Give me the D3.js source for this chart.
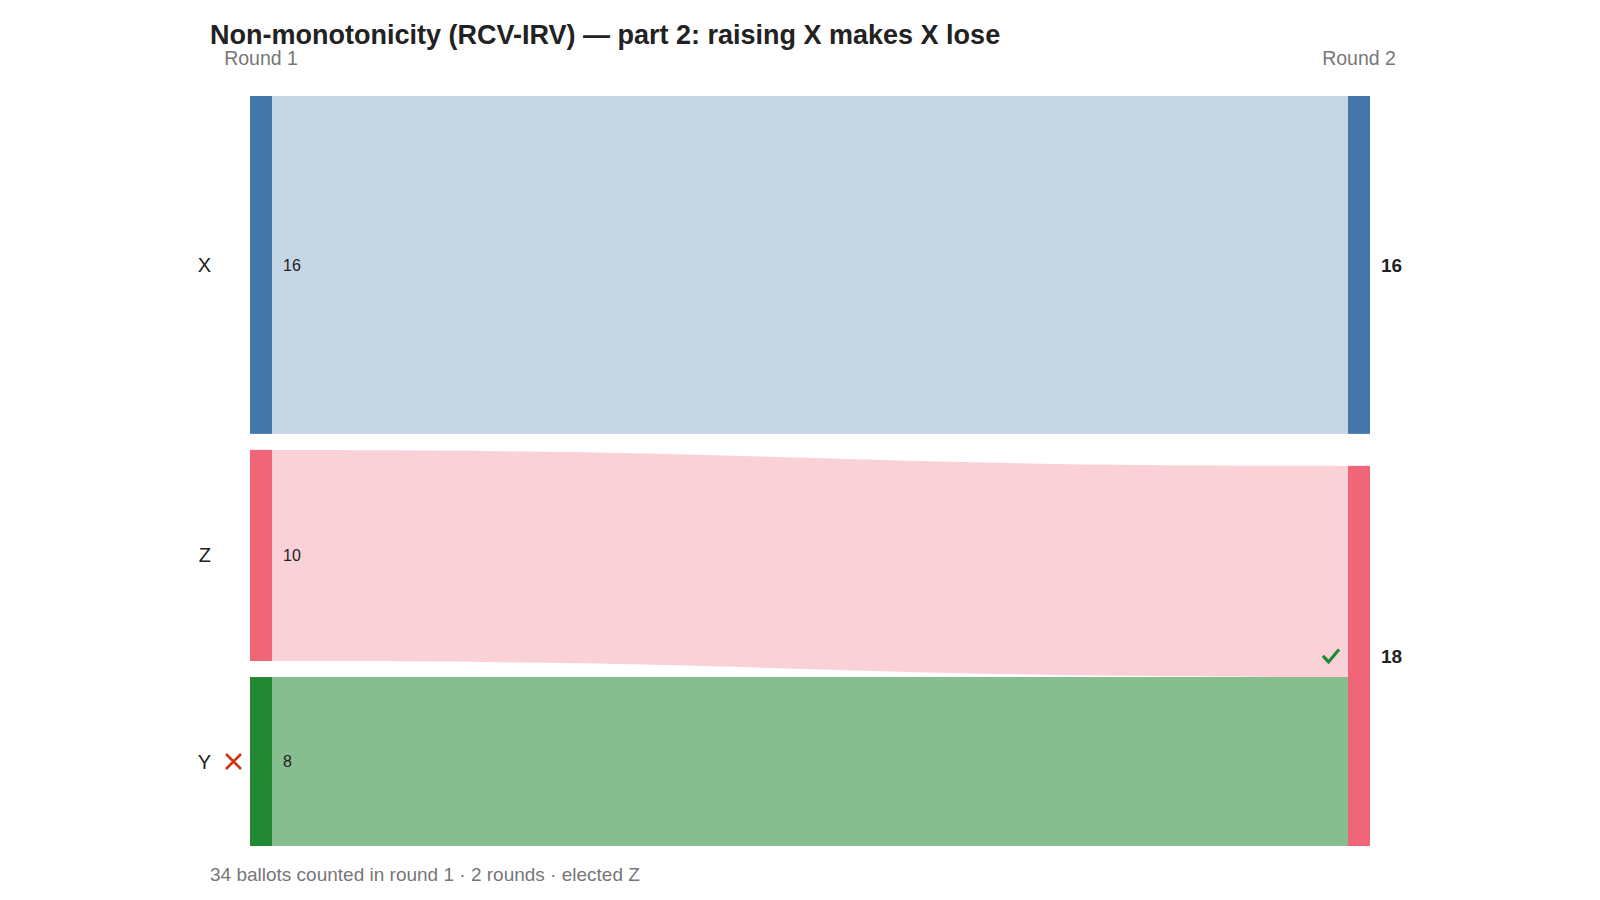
<!DOCTYPE html>
<html><head><meta charset="utf-8">
<script src="https://cdn.jsdelivr.net/npm/d3@7"></script>
<style>
html,body{margin:0;padding:0;background:#fff;}
svg{display:block;font-family:"Liberation Sans",Arial,Helvetica,sans-serif;}
</style></head>
<body>
<svg id="chart" width="1600" height="900"></svg>
<script>
// ---- data ----
const title = "Non-monotonicity (RCV-IRV) \u2014 part 2: raising X makes X lose";
const footer = "34 ballots counted in round 1 \u00b7 2 rounds \u00b7 elected Z";
const rounds = ["Round 1", "Round 2"];
const candidates = ["X", "Z", "Y"];
const round1Votes = [16, 10, 8];
const round2Candidates = ["X", "Z"];
const round2Votes = [16, 18];
const flowSource = ["X", "Z", "Y"];
const flowTarget = ["X", "Z", "Z"];
const flowValue = [16, 10, 8];
const eliminated = ["Y"];
const winner = "Z";
const palette = {X: "#4477aa", Z: "#ee6677", Y: "#228833"};

// ---- layout ----
const svg = d3.select("#chart");
const plotTop = 96, plotBottom = 846, nodeW = 22, pad = 16;
const x = d3.scalePoint().domain(rounds).range([250, 1348]);
const total = d3.sum(round1Votes);
const maxN = Math.max(candidates.length, round2Candidates.length);
const k = (plotBottom - plotTop - (maxN - 1) * pad) / total;
const h = d3.scaleLinear().domain([0, total]).range([0, total * k]);

function columnNodes(names, votes, round) {
  const sum = d3.sum(votes);
  const gap = names.length > 1 ? (plotBottom - plotTop - h(sum)) / (names.length - 1) : 0;
  let y = plotTop;
  return names.map((n, i) => {
    const node = {name: n, value: votes[i], round, x0: x(round), x1: x(round) + nodeW, y0: y, y1: y + h(votes[i])};
    y = node.y1 + gap;
    return node;
  });
}
const col1 = columnNodes(candidates, round1Votes, rounds[0]);
const col2 = columnNodes(round2Candidates, round2Votes, rounds[1]);
const find = (col, n) => col.find(d => d.name === n);

// links
col1.forEach(d => d.out = d.y0);
col2.forEach(d => d.inn = d.y0);
const links = flowValue.map((v, i) => {
  const s = find(col1, flowSource[i]), t = find(col2, flowTarget[i]);
  const l = {source: s, target: t, value: v,
    sy0: s.out, sy1: s.out + h(v), ty0: t.inn, ty1: t.inn + h(v)};
  s.out += h(v); t.inn += h(v);
  return l;
});

function ribbon(l) {
  const x0 = l.source.x1, x1 = l.target.x0, xm = (x0 + x1) / 2;
  const p = d3.path();
  p.moveTo(x0, l.sy0);
  p.bezierCurveTo(xm, l.sy0, xm, l.ty0, x1, l.ty0);
  p.lineTo(x1, l.ty1);
  p.bezierCurveTo(xm, l.ty1, xm, l.sy1, x0, l.sy1);
  p.closePath();
  return p.toString();
}

svg.append("g").selectAll("path").data(links).join("path")
  .attr("d", ribbon)
  .attr("fill", d => palette[d.source.name])
  .attr("fill-opacity", d => eliminated.includes(d.source.name) ? 0.55 : 0.3);

// nodes
svg.append("g").selectAll("rect").data(col1.concat(col2)).join("rect")
  .attr("x", d => d.x0).attr("y", d => d.y0)
  .attr("width", d => d.x1 - d.x0).attr("height", d => d.y1 - d.y0)
  .attr("fill", d => palette[d.name]);

// title
svg.append("text").attr("x", 210).attr("y", 44)
  .attr("font-size", 27).attr("font-weight", "bold").attr("fill", "#222")
  .text(title);

// round labels
svg.append("g").selectAll("text").data(rounds).join("text")
  .attr("x", d => x(d) + nodeW / 2).attr("y", 65)
  .attr("text-anchor", "middle").attr("font-size", 19.5).attr("fill", "#777")
  .text(d => d);

// candidate names
svg.append("g").selectAll("text").data(col1).join("text")
  .attr("x", 211).attr("y", d => (d.y0 + d.y1) / 2)
  .attr("dy", "0.35em").attr("text-anchor", "end")
  .attr("font-size", 20).attr("fill", "#222")
  .text(d => d.name);

// round 1 values
svg.append("g").selectAll("text").data(col1).join("text")
  .attr("x", d => d.x1 + 11).attr("y", d => (d.y0 + d.y1) / 2)
  .attr("dy", "0.35em").attr("font-size", 16).attr("fill", "#222")
  .text(d => d.value);

// round 2 values
svg.append("g").selectAll("text").data(col2).join("text")
  .attr("x", d => d.x1 + 11).attr("y", d => (d.y0 + d.y1) / 2)
  .attr("dy", "0.35em").attr("font-size", 19).attr("font-weight", "bold").attr("fill", "#222")
  .text(d => d.value);

// eliminated cross
col1.filter(d => eliminated.includes(d.name)).forEach(d => {
  const cx = 233.5, cy = (d.y0 + d.y1) / 2, r = 7.5;
  svg.append("path")
    .attr("d", `M${cx - r},${cy - r}L${cx + r},${cy + r}M${cx + r},${cy - r}L${cx - r},${cy + r}`)
    .attr("stroke", "#cc3311").attr("stroke-width", 2.6).attr("fill", "none");
});

// winner check
col2.filter(d => d.name === winner).forEach(d => {
  const cx = d.x0 - 17, cy = (d.y0 + d.y1) / 2;
  svg.append("path")
    .attr("d", `M${cx - 8},${cy}L${cx - 2.5},${cy + 6}L${cx + 8},${cy - 6.5}`)
    .attr("stroke", "#228833").attr("stroke-width", 3.2).attr("fill", "none")
    .attr("stroke-linecap", "butt").attr("stroke-linejoin", "miter");
});

// footer
svg.append("text").attr("x", 210).attr("y", 881)
  .attr("font-size", 19).attr("fill", "#777")
  .text(footer);
</script>
</body></html>
